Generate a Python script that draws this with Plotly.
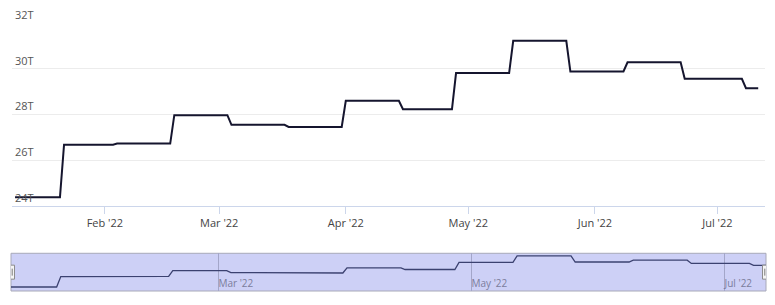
import plotly.graph_objects as go

# Step levels (trillions): each level holds from period_start to period_end
period_start = ["2022-01-10", "2022-01-22", "2022-02-04", "2022-02-18", "2022-03-04",
                "2022-03-18", "2022-04-01", "2022-04-15", "2022-04-28", "2022-05-12",
                "2022-05-26", "2022-06-09", "2022-06-23", "2022-07-08"]
period_end = ["2022-01-21", "2022-02-03", "2022-02-17", "2022-03-03", "2022-03-17",
              "2022-03-31", "2022-04-14", "2022-04-27", "2022-05-11", "2022-05-25",
              "2022-06-08", "2022-06-22", "2022-07-07", "2022-07-11"]
level_t = [24.38, 26.68, 26.73, 27.97, 27.55, 27.46, 28.60, 28.23, 29.81, 31.22,
           29.88, 30.28, 29.56, 29.15]

y_ticks = [24, 26, 28, 30, 32]
y_tick_text = ["24T", "26T", "28T", "30T", "32T"]

x_vals, y_vals = [], []
for s, e, v in zip(period_start, period_end, level_t):
    x_vals += [s, e]
    y_vals += [v, v]

FONT = "Open Sans"
LINE = "#15152e"

fig = go.Figure()
fig.add_trace(go.Scatter(x=x_vals, y=y_vals, mode="lines",
                         line=dict(color=LINE, width=2), xaxis="x", yaxis="y",
                         hoverinfo="skip"))
fig.add_trace(go.Scatter(x=x_vals, y=y_vals, mode="lines",
                         line=dict(color="#3b4170", width=1.3), xaxis="x2", yaxis="y2",
                         hoverinfo="skip"))

# navigator background box
fig.add_shape(type="rect", xref="x2 domain", yref="y2 domain", x0=0, x1=1, y0=0, y1=1,
              fillcolor="#cdd0f6", line=dict(color="#a8a9b8", width=1), layer="below")

# navigator handles anchored at the ends of the data range
for anchor in [period_start[0], period_end[-1]]:
    fig.add_shape(type="rect", xref="x2", yref="y2 domain", xsizemode="pixel",
                  ysizemode="pixel", xanchor=anchor, yanchor=0.5,
                  x0=-3.5, x1=3.5, y0=-7, y1=7,
                  fillcolor="#f4f4f4", line=dict(color="#8c8c8c", width=1), layer="above")
    for dx in (-1.2, 1.2):
        fig.add_shape(type="line", xref="x2", yref="y2 domain", xsizemode="pixel",
                      ysizemode="pixel", xanchor=anchor, yanchor=0.5,
                      x0=dx, x1=dx, y0=-3.5, y1=3.5,
                      line=dict(color="#7a7a7a", width=1), layer="above")

fig.update_layout(
    template="none",
    width=775, height=305,
    margin=dict(l=11, r=9, t=23, b=14),
    paper_bgcolor="white", plot_bgcolor="white",
    showlegend=False,
    font=dict(family=FONT, size=11, color="#555555"),
    xaxis=dict(domain=[0.0013, 0.9987], anchor="y", type="date", automargin=False,
               range=["2022-01-09 06:00", "2022-07-12 16:00"],
               dtick="M1", tickformat="%b '%y", ticks="outside", ticklen=7,
               tickcolor="#ccd6eb", showline=True, linecolor="#ccd6eb", linewidth=1,
               showgrid=False, zeroline=False,
               tickfont=dict(family=FONT, size=11, color="#444444")),
    yaxis=dict(domain=[0.317, 1], anchor="x", range=[24, 32], automargin=False,
               tickmode="array", tickvals=y_ticks, ticktext=y_tick_text,
               ticklabelposition="inside", ticks="",
               ticklabelshift=-8, ticklabeloverflow="allow",
               showgrid=True, gridcolor="#ececec", gridwidth=1,
               zeroline=False, showline=False,
               tickfont=dict(family=FONT, size=11, color="#555555")),
    xaxis2=dict(domain=[0, 1], anchor="y2", type="date", automargin=False,
                range=[period_start[0], period_end[-1]],
                tick0="2022-01-01", dtick="M2", tickformat="%b '%y",
                ticklabelposition="inside right", ticks="", ticklabelstandoff=-4,
                showgrid=True, gridcolor="#a3a6c9", zeroline=False, showline=False,
                tickfont=dict(family=FONT, size=10, color="#7b7d9c")),
    yaxis2=dict(domain=[0, 0.1407], anchor="x2", range=[23.5, 31.8],
                visible=False, fixedrange=True, automargin=False),
)

fig.write_html("out.html")
